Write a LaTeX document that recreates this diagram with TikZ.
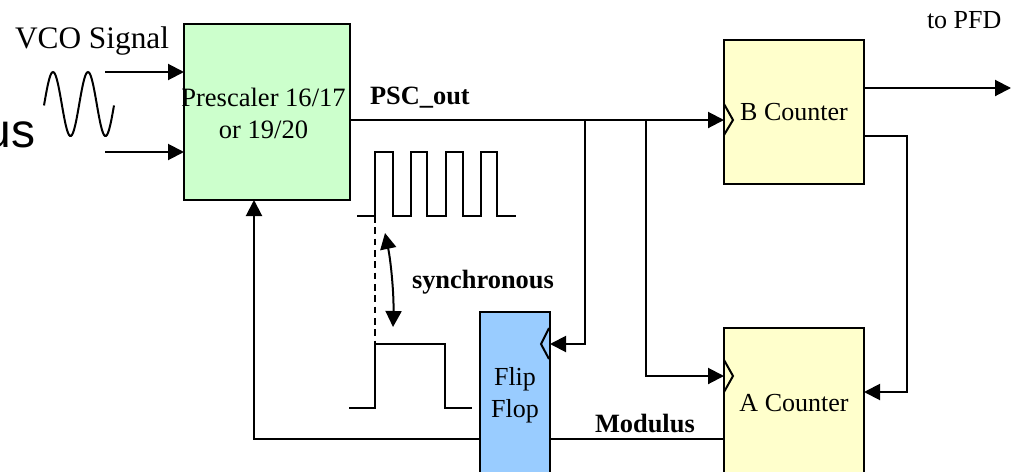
\documentclass[tikz,border=0pt]{standalone}
\usepackage{fontspec}
\setmainfont{Liberation Serif}
\newfontfamily\labelsans{Liberation Sans}
\usetikzlibrary{positioning,arrows.meta}

\definecolor{prescgreen}{HTML}{CCFFCC}
\definecolor{ctryellow}{HTML}{FFFFCC}
\definecolor{ffblue}{HTML}{99CCFF}

\begin{document}
\begin{tikzpicture}[
            x=0.75pt, y=-0.75pt,
            every node/.style={font=\fontsize{19.5pt}{24pt}\selectfont, inner sep=0pt, outer sep=0pt},
            block/.style={draw, line width=1.5pt, align=center},
            tag/.style={anchor=base west},
            boldtag/.style={anchor=base west, font=\fontsize{19.8pt}{24pt}\selectfont\bfseries},
            wire/.style={line width=1.5pt},
            >={Triangle[length=12pt,width=12pt]}
        ]
            \clip (0,0) rectangle (1019,471);

            % Blocks
            \node[block, fill=prescgreen, minimum width=124.5pt, minimum height=132pt, anchor=north west] (presc) at (184,24) {};
            \node[block, fill=ctryellow, minimum width=105pt, minimum height=108pt, below right=12pt and 280.5pt of presc.north east] (bctr) {B Counter};
            \node[block, fill=ctryellow, minimum width=105pt, minimum height=112.5pt, below=108pt of bctr] (actr) {A Counter};
            \node[block, fill=ffblue, minimum width=52.5pt, minimum height=124.5pt, anchor=north west] (ff) at (480,312) {Flip\\Flop};

            % Free ends
            \coordinate (vcoa) at (105,72);
            \coordinate (vcob) at (105,152);
            \coordinate (pfd) at (1011,88);
            \coordinate (syna) at (385,233);
            \coordinate (synb) at (393,327);

            % Labels
            \node[align=center, font=\fontsize{19.9pt}{24pt}\selectfont] (presclabel) at (263.5,113) {Prescaler 16/17\\or 19/20};
            \node[tag, font=\fontsize{23.5pt}{24pt}\selectfont] (vcolabel) at (15,48) {VCO Signal};
            \node[tag, font=\fontsize{36pt}{36pt}\selectfont\labelsans] (modlabel) at (-15,147) {us};
            \node[tag] (pfdlabel) at (927,28) {to PFD};
            \node[boldtag] (psclabel) at (370,104) {PSC\_out};
            \node[boldtag] (synclabel) at (412,288) {synchronous};
            \node[boldtag] (modulus) at (595,432) {Modulus};

            % Edges
            \draw[wire, ->] (vcoa) -- (vcoa -| presc.west);
            \draw[wire, ->] (vcob) -- (vcob -| presc.west);
            \draw[wire, ->] ([yshift=-6pt]presc.east) -- ([yshift=-6pt]bctr.west);
            \draw[wire, ->] (585,120) |- (ff.east |- 0,344);
            \draw[wire, ->] (646,120) |- (actr.west |- 0,376);
            \draw[wire, ->] ([yshift=18pt]bctr.east) -- (pfd);
            \draw[wire, ->] ([yshift=-18pt]bctr.east) -| (907,392) -- (actr.east |- 0,392);
            \draw[wire] (ff.east |- 0,439) -- (actr.west |- 0,439);
            \draw[wire, ->] (ff.west |- 0,439) -| (presc.south -| 254,0);
            \draw[wire, <->] (syna) .. controls (391,262) and (394,295) .. (synb);

            % Clock marks
            \draw[wire] (724,104) -- (733,120) -- (724,135);
            \draw[wire] (724,360) -- (733,376) -- (724,392);
            \draw[wire] (549,328) -- (541,344) -- (549,359);

            % Waveforms
            \draw[wire, domain=44:114, samples=71, smooth] plot (\x, {104-32*cos((\x-53)/35*360)});
            \draw[wire] (357,216) -- (375,216) -- (375,152) -- (393,152) -- (393,216) -- (411,216) -- (411,152) -- (427,152) -- (427,216) -- (446,216) -- (446,152) -- (463,152) -- (463,216) -- (481,216) -- (481,152) -- (497,152) -- (497,216) -- (516,216);
            \draw[wire] (349,408) -- (375,408) -- (375,344) -- (445,344) -- (445,408) -- (472,408);
            \draw[wire, dash pattern=on 5pt off 3.5pt] (375,216) -- (375,344);
        \end{tikzpicture}
\end{document}
